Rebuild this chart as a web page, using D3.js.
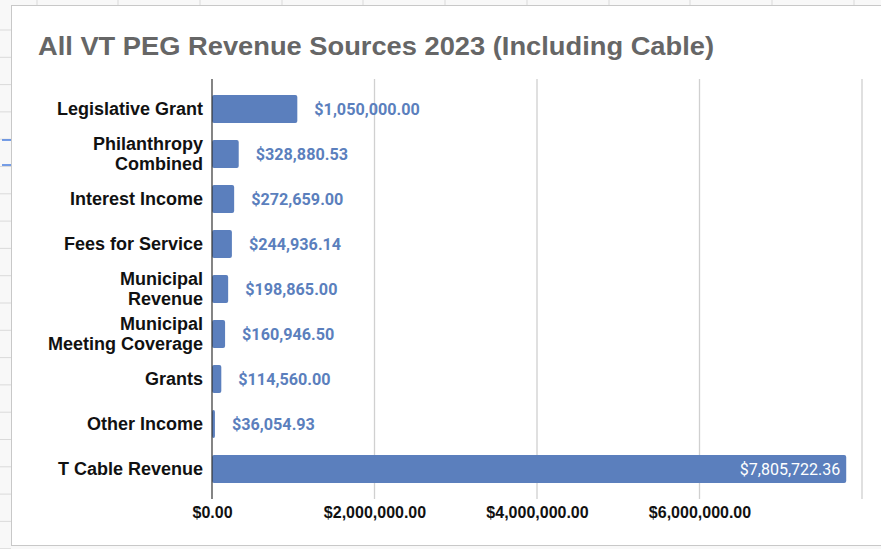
<!DOCTYPE html>
<html><head><meta charset="utf-8">
<script src="https://cdn.jsdelivr.net/npm/d3@7"></script>
<style>body{margin:0;background:#fff;}svg{display:block;font-family:"Liberation Sans",Arial,sans-serif;}</style>
</head><body>
<svg id="c" width="881" height="549"></svg>
<script>
const categories = [["Legislative Grant"],["Philanthropy","Combined"],["Interest Income"],["Fees for Service"],["Municipal","Revenue"],["Municipal","Meeting Coverage"],["Grants"],["Other Income"],["T Cable Revenue"]];
const values = [1050000.00, 328880.53, 272659.00, 244936.14, 198865.00, 160946.50, 114560.00, 36054.93, 7805722.36];
const valueLabels = ["$1,050,000.00","$328,880.53","$272,659.00","$244,936.14","$198,865.00","$160,946.50","$114,560.00","$36,054.93","$7,805,722.36"];
const ticks = [0, 2000000, 4000000, 6000000, 8000000];
const tickLabels = ["$0.00","$2,000,000.00","$4,000,000.00","$6,000,000.00",""];
const title = "All VT PEG Revenue Sources 2023 (Including Cable)";

const svg = d3.select("#c");
// spreadsheet background
svg.append("rect").attr("x",0).attr("y",0).attr("width",881).attr("height",549).attr("fill","#f8f8f8");
[37,118,200,282,363,445,527,609,690,772,854].forEach(x=>svg.append("line").attr("x1",x).attr("x2",x).attr("y1",0).attr("y2",5).attr("stroke","#dadada"));
d3.range(30,549,27.3).forEach(y=>svg.append("line").attr("x1",0).attr("x2",11).attr("y1",y).attr("y2",y).attr("stroke","#dadada"));
svg.append("line").attr("x1",2).attr("x2",11).attr("y1",140).attr("y2",140).attr("stroke","#4a7fe0").attr("stroke-width",1.5);
svg.append("line").attr("x1",2).attr("x2",11).attr("y1",165).attr("y2",165).attr("stroke","#4a7fe0").attr("stroke-width",1.5);
svg.append("rect").attr("x",11.5).attr("y",5.5).attr("width",880).attr("height",540).attr("fill","#fff").attr("stroke","#c8c8c8");

svg.append("text").attr("x",38).attr("y",55).attr("fill","#666").attr("font-size",26.5).attr("font-weight","bold")
  .attr("textLength",676).attr("lengthAdjust","spacingAndGlyphs").text(title);

const x = d3.scaleLinear().domain([0,8000000]).range([212,862]);
const y = d3.scaleBand().domain(d3.range(values.length)).range([86.5,491.5]).paddingInner(0.38).paddingOuter(0.19);

// gridlines
svg.append("g").selectAll("line").data(ticks.slice(1)).join("line")
  .attr("x1",d=>x(d)).attr("x2",d=>x(d)).attr("y1",79).attr("y2",499).attr("stroke","#d0d0d0").attr("stroke-width",1.3);

// bars
svg.append("g").selectAll("rect").data(values).join("rect")
  .attr("x",x(0)).attr("y",(d,i)=>y(i)).attr("height",y.bandwidth())
  .attr("width",d=>x(d)-x(0)).attr("rx",2).attr("fill","#5b7fbd");

// axis line
svg.append("line").attr("x1",212).attr("x2",212).attr("y1",79).attr("y2",499).attr("stroke","#333").attr("stroke-width",1.2);

// x tick labels
const xa = d3.axisBottom(x).tickValues(ticks).tickFormat((d,i)=>tickLabels[i]).tickSize(0);
const gx = svg.append("g").attr("transform","translate(0,504)").call(xa);
gx.select(".domain").remove();
gx.selectAll("text").attr("font-size",16).attr("font-weight","bold").attr("fill","#111").attr("font-family","Liberation Sans, Arial, sans-serif");

// category labels
const cl = svg.append("g").selectAll("text").data(categories).join("text")
  .attr("text-anchor","end").attr("font-size",18).attr("font-weight","bold").attr("fill","#111")
  .attr("transform",(d,i)=>`translate(203,${y(i)+y.bandwidth()/2})`);
cl.each(function(d){
  const t=d3.select(this);
  const n=d.length;
  d.forEach((line,k)=>t.append("tspan").attr("x",0).attr("y",(k-(n-1)/2)*20+6).text(line));
});

// value labels
svg.append("g").selectAll("text").data(values).join("text")
  .attr("x",(d,i)=> i===values.length-1 ? x(d)-6 : x(d)+17)
  .attr("y",(d,i)=>y(i)+y.bandwidth()/2+6)
  .attr("text-anchor",(d,i)=> i===values.length-1 ? "end":"start")
  .attr("font-family","Roboto, sans-serif")
  .attr("font-size",(d,i)=> i===values.length-1 ? 16 : 16.2).attr("font-weight",(d,i)=> i===values.length-1 ? "normal":"bold")
  .attr("fill",(d,i)=> i===values.length-1 ? "#fff":"#5b7fbd")
  .text((d,i)=>valueLabels[i]);
</script>
</body></html>
